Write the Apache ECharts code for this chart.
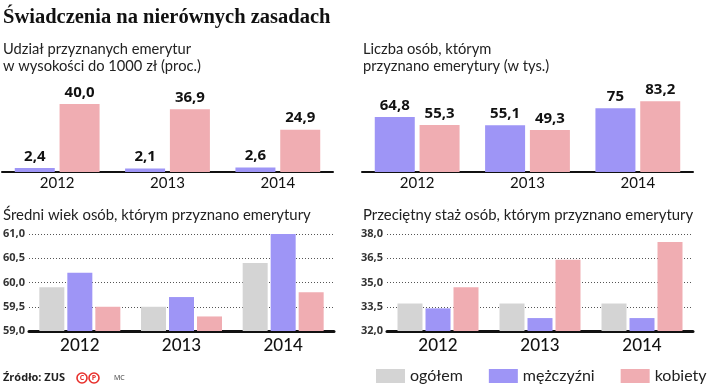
<!DOCTYPE html>
<html>
<head>
<meta charset="utf-8">
<script src="https://cdn.jsdelivr.net/npm/echarts@6/dist/echarts.min.js"></script>
<style>
  html, body { margin: 0; padding: 0; background: #fff; }
  #chart { width: 714px; height: 387px; }
</style>
</head>
<body>
<div id="chart"></div>
<script>
var years = ['2012', '2013', '2014'];

// Udział przyznanych emerytur do 1000 zł (proc.)
var shareMen = [2.4, 2.1, 2.6];
var shareWomen = [40.0, 36.9, 24.9];

// Liczba osób (w tys.)
var countMen = [64.8, 55.1, 75];
var countWomen = [55.3, 49.3, 83.2];

// Średni wiek
var ageAll = [59.9, 59.5, 60.4];
var ageMen = [60.2, 59.7, 61.0];
var ageWomen = [59.5, 59.3, 59.8];

// Przeciętny staż
var tenureAll = [33.7, 33.7, 33.7];
var tenureMen = [33.4, 32.8, 32.8];
var tenureWomen = [34.7, 36.4, 37.5];

var GRAY = '#d4d4d4', BLUE = '#9e95f6', PINK = '#f0adb2';
var FONT = 'Lato';

var comma = function (v) { return String(v).replace('.', ','); };
var comma1 = function (v) { return v.toFixed(1).replace('.', ','); };

function barLabel(fmt) {
  return {
    show: true, position: 'top', distance: 4,
    fontFamily: 'Open Sans', fontWeight: 'bold', fontSize: 15, color: '#111',
    formatter: function (p) { return fmt(p.value); }
  };
}

function catAxis(idx, big) {
  return {
    type: 'category', gridIndex: idx, data: years,
    axisLine: { lineStyle: { color: '#111', width: big ? 3 : 2 } },
    axisTick: { show: false },
    axisLabel: {
      fontFamily: FONT, fontSize: big ? 17 : 15, color: '#111',
      fontWeight: big ? 500 : 'normal',
      margin: big ? 6 : 4
    }
  };
}

function valAxis(idx, min, max, interval, show) {
  return {
    type: 'value', gridIndex: idx, min: min, max: max, interval: interval,
    axisLine: { show: false }, axisTick: { show: false },
    axisLabel: show ? {
      fontFamily: 'Open Sans', fontWeight: 'bold', fontSize: 11, color: '#333',
      margin: 4, formatter: function (v) { return v.toFixed(1).replace('.', ','); }
    } : { show: false },
    splitLine: show ? { lineStyle: { type: [1, 2], color: '#555', width: 1 } } : { show: false }
  };
}

var chart = echarts.init(document.getElementById('chart'));
chart.setOption({
  animation: false,
  grid: [
    { left: 2, right: 381, top: 87, bottom: 215 },
    { left: 362, right: 21, top: 87, bottom: 215 },
    { left: 29, right: 380, top: 234, bottom: 56 },
    { left: 387, right: 21, top: 234, bottom: 56 }
  ],
  xAxis: [catAxis(0, false), catAxis(1, false), catAxis(2, true), catAxis(3, true)],
  yAxis: [
    valAxis(0, 0, 50, 10, false),
    valAxis(1, 0, 100, 20, false),
    valAxis(2, 59, 61, 0.5, true),
    valAxis(3, 32, 38, 1.5, true)
  ],
  legend: {
    left: 371, top: 363, width: 343, itemWidth: 29, itemHeight: 14, itemGap: 26,
    icon: 'rect',
    textStyle: { fontFamily: FONT, fontSize: 16, color: '#222' },
    data: ['ogółem', 'mężczyźni', 'kobiety']
  },
  graphic: [
    { type: 'text', left: 3, top: 7, style: { text: 'Świadczenia na nierównych zasadach', font: 'bold 20.5px "Liberation Serif"', fill: '#111' } },
    { type: 'text', left: 3, top: 41, style: { text: 'Udział przyznanych emerytur\nw wysokości do 1000 zł (proc.)', font: '14.7px Lato', lineHeight: 17, fill: '#222' } },
    { type: 'text', left: 363, top: 41, style: { text: 'Liczba osób, którym\nprzyznano emerytury (w tys.)', font: '14.7px Lato', lineHeight: 17, fill: '#222' } },
    { type: 'text', left: 3, top: 208, style: { text: 'Średni wiek osób, którym przyznano emerytury', font: '14.9px Lato', fill: '#222' } },
    { type: 'text', left: 363, top: 208, style: { text: 'Przeciętny staż osób, którym przyznano emerytury', font: '14.9px Lato', fill: '#222' } },
    { type: 'text', left: 3, top: 372, style: { text: 'Źródło: ZUS', font: 'bold 11px "Open Sans"', fill: '#222' } },
    { type: 'circle', shape: { cx: 82, cy: 378, r: 5 }, style: { fill: '#fff', stroke: '#e8302c', lineWidth: 1.6 } },
    { type: 'text', x: 82, y: 378, style: { text: 'C', font: 'bold 7px "Open Sans"', fill: '#e8302c', align: 'center', verticalAlign: 'middle' } },
    { type: 'circle', shape: { cx: 94, cy: 378, r: 5 }, style: { fill: '#fff', stroke: '#e8302c', lineWidth: 1.6 } },
    { type: 'text', x: 94, y: 378, style: { text: 'P', font: 'bold 7px "Open Sans"', fill: '#e8302c', align: 'center', verticalAlign: 'middle' } },
    { type: 'text', left: 114, top: 374, style: { text: 'MC', font: '7px "Open Sans"', fill: '#333' } }
  ],
  series: [
    { name: 'mężczyźni', type: 'bar', xAxisIndex: 0, yAxisIndex: 0, data: shareMen, barWidth: 40, barGap: '12%', itemStyle: { color: BLUE }, label: barLabel(comma1) },
    { name: 'kobiety', type: 'bar', xAxisIndex: 0, yAxisIndex: 0, data: shareWomen, barWidth: 40, barGap: '12%', itemStyle: { color: PINK }, label: barLabel(comma1) },
    { name: 'mężczyźni', type: 'bar', xAxisIndex: 1, yAxisIndex: 1, data: countMen, barWidth: 40, barGap: '12%', itemStyle: { color: BLUE }, label: barLabel(comma) },
    { name: 'kobiety', type: 'bar', xAxisIndex: 1, yAxisIndex: 1, data: countWomen, barWidth: 40, barGap: '12%', itemStyle: { color: PINK }, label: barLabel(comma) },
    { name: 'ogółem', type: 'bar', xAxisIndex: 2, yAxisIndex: 2, data: ageAll, barWidth: 25, barGap: '12%', itemStyle: { color: GRAY } },
    { name: 'mężczyźni', type: 'bar', xAxisIndex: 2, yAxisIndex: 2, data: ageMen, barWidth: 25, barGap: '12%', itemStyle: { color: BLUE } },
    { name: 'kobiety', type: 'bar', xAxisIndex: 2, yAxisIndex: 2, data: ageWomen, barWidth: 25, barGap: '12%', itemStyle: { color: PINK } },
    { name: 'ogółem', type: 'bar', xAxisIndex: 3, yAxisIndex: 3, data: tenureAll, barWidth: 25, barGap: '12%', itemStyle: { color: GRAY } },
    { name: 'mężczyźni', type: 'bar', xAxisIndex: 3, yAxisIndex: 3, data: tenureMen, barWidth: 25, barGap: '12%', itemStyle: { color: BLUE } },
    { name: 'kobiety', type: 'bar', xAxisIndex: 3, yAxisIndex: 3, data: tenureWomen, barWidth: 25, barGap: '12%', itemStyle: { color: PINK } }
  ]
});
</script>
</body>
</html>
